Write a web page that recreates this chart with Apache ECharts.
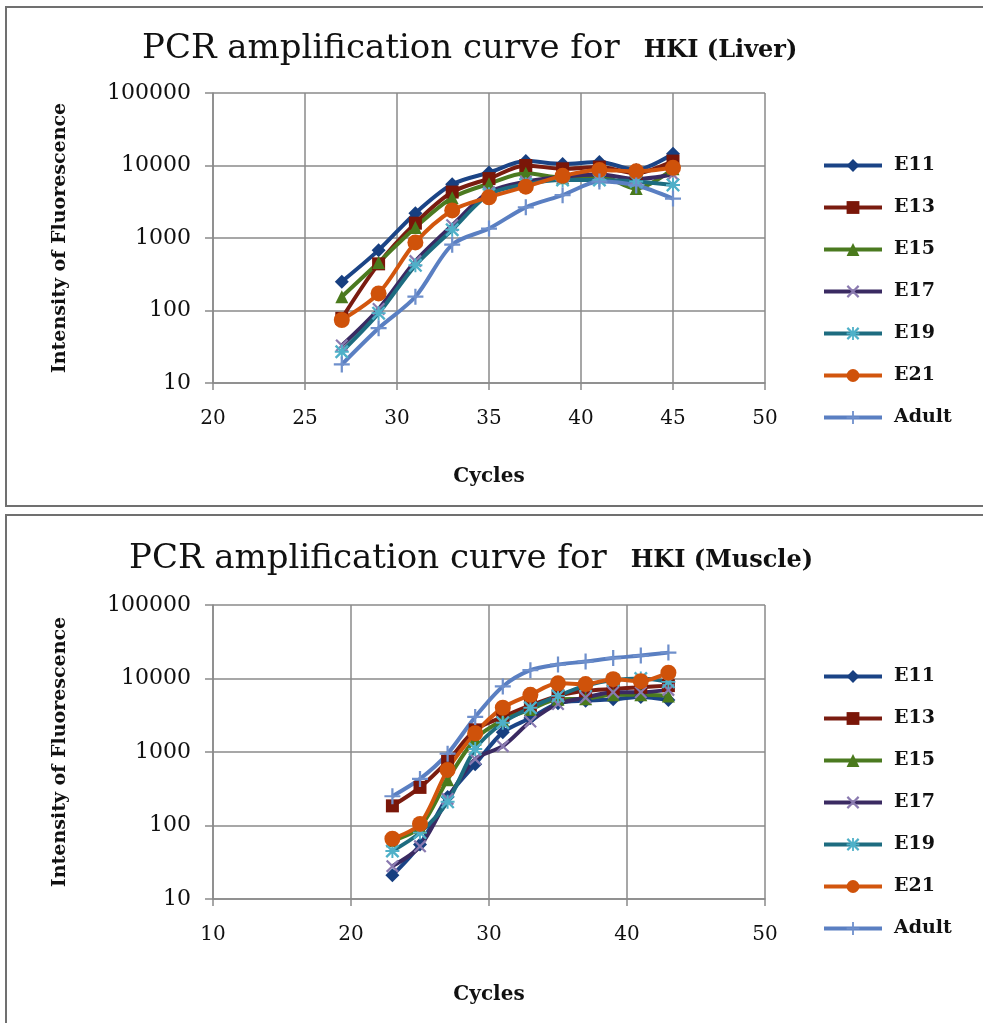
<!DOCTYPE html>
<html lang="en">
<head>
<meta charset="UTF-8">
<title>PCR amplification curve for HKI</title>
<script src="https://cdn.jsdelivr.net/npm/echarts@6/dist/echarts.min.js"></script>
<style>
    *{
        margin: 0;
    }
    html,body{
        width: 983px;
        height: 1023px;
        overflow: hidden;
        background: #fff;
    }
    .box{
        position: absolute;
        left: 5px;
        width: 995px;
        border: 2px solid #707070;
        background: #fff;
    }
    #liver{ top: 6px; height: 497px; }
    #muscle{ top: 514px; height: 520px; }
</style>
</head>
<body>
<div id="liver" class="box"></div>
<div id="muscle" class="box"></div>
<script>
// ---- data ----
const names = ['E11', 'E13', 'E15', 'E17', 'E19', 'E21', 'Adult'];

const liverCycles = [27, 29, 31, 33, 35, 37, 39, 41, 43, 45];
const liverE11   = [250, 680, 2200, 5500, 8000, 11500, 10500, 11200, 8700, 14500];
const liverE13   = [78, 440, 1600, 4300, 6600, 10000, 9000, 9500, 7800, 11500];
const liverE15   = [155, 460, 1400, 3600, 5600, 7800, 6800, 7200, 4800, 9000];
const liverE17   = [33, 105, 480, 1500, 4300, 6000, 7000, 7500, 6500, 7500];
const liverE19   = [27, 92, 420, 1300, 4000, 5500, 6300, 6300, 6000, 5400];
const liverE21   = [74, 172, 870, 2400, 3650, 5100, 7200, 8700, 8300, 9300];
const liverAdult = [18, 57, 155, 810, 1350, 2650, 3900, 6000, 5300, 3500];

const muscleCycles = [23, 25, 27, 29, 31, 33, 35, 37, 39, 41, 43];
const muscleE11   = [21, 55, 245, 680, 1850, 2900, 4600, 5000, 5200, 5600, 5100];
const muscleE13   = [185, 330, 750, 2000, 3000, 4300, 5800, 6800, 7200, 7600, 8000];
const muscleE15   = [62, 95, 420, 1500, 2700, 3800, 5200, 5300, 6000, 6000, 5800];
const muscleE17   = [28, 52, 230, 800, 1200, 2600, 4500, 5500, 6500, 6500, 7000];
const muscleE19   = [45, 80, 210, 1100, 2500, 4000, 5800, 8000, 9500, 10000, 9000];
const muscleE21   = [66, 105, 570, 1800, 4000, 6000, 8600, 8400, 9800, 9200, 12000];
const muscleAdult = [250, 430, 950, 3000, 7800, 13000, 15500, 17000, 19000, 20500, 22500];

const yTicks = [10, 100, 1000, 10000, 100000];

// ---- look ----
const crossPath = 'path://M1.2,0 L5,3.8 L8.8,0 L10,1.2 L6.2,5 L10,8.8 L8.8,10 L5,6.2 L1.2,10 L0,8.8 L3.8,5 L0,1.2 Z';
const plusPath = 'path://M4.3,0 L5.7,0 L5.7,4.3 L10,4.3 L10,5.7 L5.7,5.7 L5.7,10 L4.3,10 L4.3,5.7 L0,5.7 L0,4.3 L4.3,4.3 Z';
const starPath = crossPath + ' ' + plusPath.replace('path://', '');

const looks = [
    {line: '#1b4486', mark: '#173f80', symbol: 'diamond', size: 14},
    {line: '#7a1c10', mark: '#7a1608', symbol: 'rect', size: 13},
    {line: '#4b7a20', mark: '#4a7a1c', symbol: 'triangle', size: 13},
    {line: '#3a2a62', mark: '#8a7ab0', symbol: crossPath, size: 13},
    {line: '#1d6c80', mark: '#4fb0c8', symbol: starPath, size: 14},
    {line: '#d2560e', mark: '#cf520a', symbol: 'circle', size: 16},
    {line: '#5a7fc2', mark: '#6f90cc', symbol: plusPath, size: 16}
];

const FONT = '"DejaVu Serif", "Liberation Serif", serif';
const gridColor = '#8a8a8a';

function makeOption(cfg){
    return {
        animation: false,
        backgroundColor: '#fff',
        textStyle: {fontFamily: FONT, color: '#111'},
        title: {
            left: cfg.titleLeft,
            top: cfg.titleTop,
            text: '{a|PCR amplification curve for}{b|' + cfg.subject + '}',
            textStyle: {
                fontWeight: 'normal',
                rich: {
                    a: {fontFamily: FONT, fontSize: 34, fontWeight: 'normal', color: '#111',
                        lineHeight: 40, verticalAlign: 'bottom'},
                    b: {fontFamily: FONT, fontSize: 24, fontWeight: 'bold', color: '#111',
                        lineHeight: 30, verticalAlign: 'bottom', padding: [0, 0, 3, 24]}
                }
            }
        },
        legend: {
            orient: 'vertical',
            left: 810,
            top: cfg.legendTop,
            itemWidth: 58,
            itemHeight: 16,
            itemGap: 23,
            data: names,
            lineStyle: {width: 4},
            textStyle: {fontFamily: FONT, fontSize: 19, fontWeight: 'bold', color: '#111', padding: [0, 0, 0, 7]}
        },
        grid: {left: 206, top: cfg.gridTop, width: 552, height: cfg.gridHeight},
        xAxis: {
            type: 'value',
            min: cfg.xMin, max: 50, interval: cfg.xStep,
            name: 'Cycles',
            nameLocation: 'middle',
            nameGap: cfg.nameGapX,
            nameTextStyle: {fontFamily: FONT, fontSize: 20, fontWeight: 'bold', color: '#111'},
            axisLine: {show: true, lineStyle: {color: gridColor, width: 1.5}},
            axisTick: {show: true, length: 7, lineStyle: {color: gridColor, width: 1.5}},
            splitLine: {show: true, lineStyle: {color: gridColor, width: 1.5}},
            axisLabel: {margin: 26, fontFamily: FONT, fontSize: 20, color: '#111'}
        },
        yAxis: {
            type: 'log',
            logBase: 10,
            min: yTicks[0], max: yTicks[yTicks.length - 1],
            name: 'Intensity of Fluorescence',
            nameLocation: 'middle',
            nameGap: 143,
            nameRotate: 90,
            nameTextStyle: {fontFamily: FONT, fontSize: 19, fontWeight: 'bold', color: '#111'},
            axisLine: {show: true, lineStyle: {color: gridColor, width: 1.5}},
            axisTick: {show: true, length: 8, lineStyle: {color: gridColor, width: 1.5}},
            splitLine: {show: true, lineStyle: {color: gridColor, width: 1.5}},
            axisLabel: {margin: 22, fontFamily: FONT, fontSize: 22, color: '#111',
                formatter: v => String(Math.round(v))}
        },
        series: cfg.values.map((vals, i) => ({
            name: names[i],
            type: 'line',
            smooth: 0.3,
            data: cfg.cycles.map((c, k) => [c, vals[k]]),
            symbol: looks[i].symbol,
            symbolSize: looks[i].size,
            lineStyle: {color: looks[i].line, width: 4},
            itemStyle: {color: looks[i].mark},
            emphasis: {disabled: true}
        }))
    };
}

echarts.init(document.getElementById('liver')).setOption(makeOption({
    subject: 'HKI (Liver)',
    titleLeft: 130, titleTop: 13,
    legendTop: 143,
    gridTop: 85, gridHeight: 290,
    xMin: 20, xStep: 5, nameGapX: 84,
    cycles: liverCycles,
    values: [liverE11, liverE13, liverE15, liverE17, liverE19, liverE21, liverAdult]
}));

echarts.init(document.getElementById('muscle')).setOption(makeOption({
    subject: 'HKI (Muscle)',
    titleLeft: 117, titleTop: 15,
    legendTop: 146,
    gridTop: 89, gridHeight: 294,
    xMin: 10, xStep: 10, nameGapX: 86,
    cycles: muscleCycles,
    values: [muscleE11, muscleE13, muscleE15, muscleE17, muscleE19, muscleE21, muscleAdult]
}));
</script>
</body>
</html>
